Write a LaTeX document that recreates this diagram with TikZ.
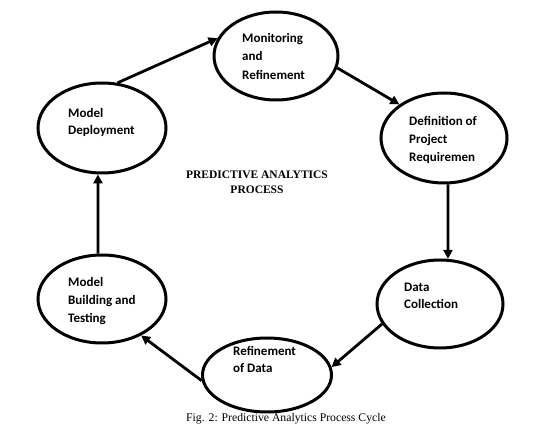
\documentclass[tikz,border=0pt]{standalone}
\usepackage{fontspec}
\setmainfont{Liberation Serif}
\newfontfamily\calib{Carlito}
\usetikzlibrary{shapes.geometric,arrows.meta}
\tikzset{
  stagebox/.style 2 args={ellipse,draw=black,line width=3pt,inner sep=0pt,
    minimum width=#1pt,minimum height=#2pt},
  stagetext/.style={anchor=north west,inner sep=0pt,align=left,
    font=\calib\bfseries\fontsize{13}{#1}\selectfont},
  flow/.style={draw=black,line width=2.8pt,-{Triangle[length=9pt,width=9pt]}}
}
\begin{document}
\begin{tikzpicture}[x=1pt,y=-1pt]
\useasboundingbox[fill=white] (0,0) rectangle (550,438);
% ellipses
\node[stagebox={124}{88}] (mon) at (276,56) {};
\node[stagebox={126}{90}] (def) at (444,138) {};
\node[stagebox={126}{88}] (data) at (440,304) {};
\node[stagebox={129}{74}] (ref) at (267,375) {};
\node[stagebox={128}{88}] (bld) at (102,299) {};
\node[stagebox={128}{90}] (dep) at (102,128) {};
% texts
\node[stagetext=18.5] (monT) at (242,42-12.95) {\strut Monitoring\\and\\Refinement};
\node[stagetext=18] (defT) at (409,125-12.6) {\strut Definition of\\Project\\Requiremen};
\node[stagetext=17] (dataT) at (404,291-11.9) {\strut Data\\Collection};
\node[stagetext=17] (refT) at (233,355-11.9) {\strut Refinement\\of Data};
\node[stagetext=18] (bldT) at (68,286-12.6) {\strut Model\\Building and\\Testing};
\node[stagetext=17] (depT) at (68,117-11.9) {\strut Model\\Deployment};
% centre title
\node[anchor=north,inner sep=0pt,align=center,
  font=\bfseries\fontsize{11.5}{15}\selectfont] (title) at (257,178-10.5)
  {\strut PREDICTIVE ANALYTICS\\PROCESS};
% caption
\node[anchor=base,inner sep=0pt,font=\fontsize{11.7}{14}\selectfont] (cap) at (286,422)
  {Fig. 2: Predictive Analytics Process Cycle};
% arrows
\draw[flow] (dep.71) -- (mon.163);
\draw[flow] (mon.-11) -- (def.143);
\draw[flow] (def.-85) -- (data.80);
\draw[flow] (data.199) -- (ref.7);
\draw[flow] (ref.185) -- (bld.-43);
\draw[flow] (bld.95) -- (dep.-95);
\end{tikzpicture}
\end{document}
